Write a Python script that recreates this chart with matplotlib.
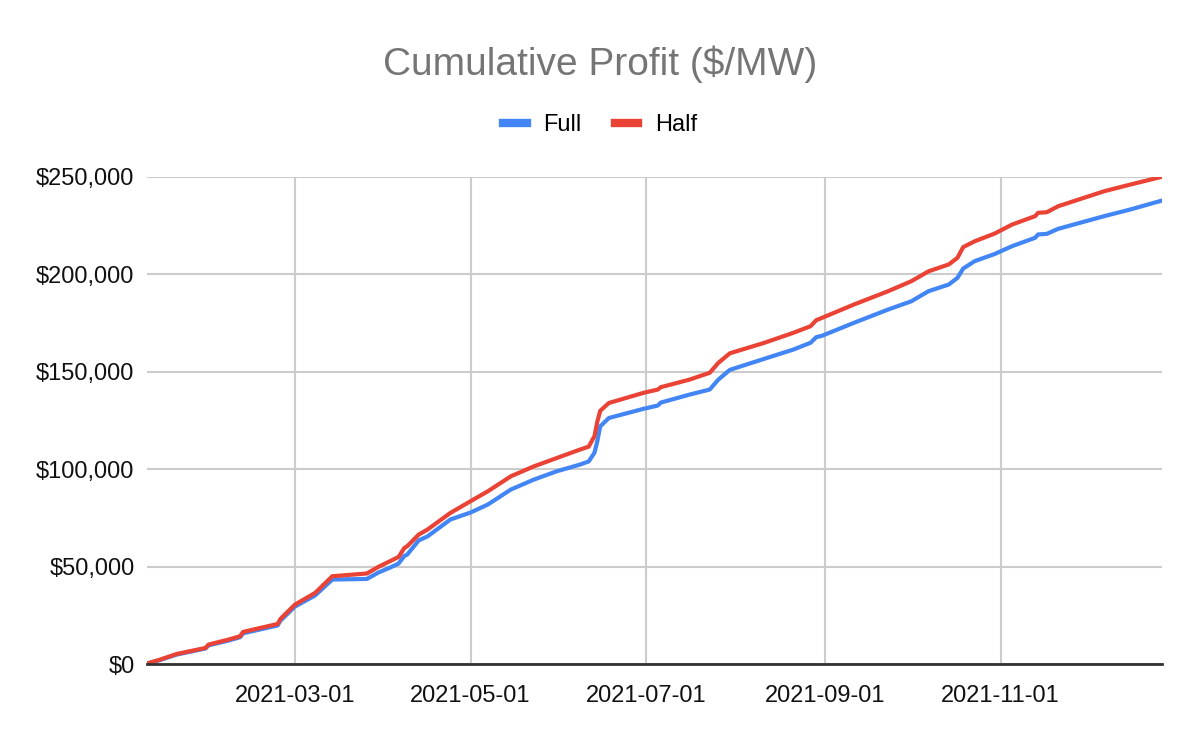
import matplotlib
matplotlib.use("Agg")
import matplotlib.pyplot as plt
import matplotlib.dates as mdates
from matplotlib.ticker import FuncFormatter
from matplotlib.lines import Line2D
import pandas as pd

plt.rcParams['font.family'] = ['Liberation Sans', 'DejaVu Sans']

dates = ["2021-01-08", "2021-01-13", "2021-01-19", "2021-01-29", "2021-01-30",
         "2021-02-06", "2021-02-10", "2021-02-11", "2021-02-23", "2021-02-24",
         "2021-03-01", "2021-03-08", "2021-03-14", "2021-03-26", "2021-03-30",
         "2021-04-03", "2021-04-06", "2021-04-08", "2021-04-09", "2021-04-13",
         "2021-04-16", "2021-04-24", "2021-05-01", "2021-05-07", "2021-05-15",
         "2021-05-23", "2021-05-31", "2021-06-08", "2021-06-11", "2021-06-13",
         "2021-06-14", "2021-06-15", "2021-06-18", "2021-06-30", "2021-07-05",
         "2021-07-06", "2021-07-16", "2021-07-23", "2021-07-26", "2021-07-30",
         "2021-08-11", "2021-08-21", "2021-08-27", "2021-08-29", "2021-08-31",
         "2021-09-11", "2021-09-23", "2021-10-01", "2021-10-07", "2021-10-14",
         "2021-10-17", "2021-10-19", "2021-10-23", "2021-10-30", "2021-11-05",
         "2021-11-13", "2021-11-14", "2021-11-17", "2021-11-21", "2021-12-07",
         "2021-12-16", "2021-12-27"]

full = [0, 2000, 4900, 8000, 9600,
        12100, 13800, 15800, 19800, 22300,
        29500, 35200, 43400, 43700, 47000,
        49500, 51600, 55500, 56200, 63500,
        65500, 74200, 77800, 81900, 89600,
        94700, 99000, 102400, 104000, 108500,
        114500, 122000, 126300, 131000, 132700,
        134200, 138300, 140900, 146000, 151000,
        156700, 161400, 164900, 167800, 168500,
        175100, 182000, 186200, 191400, 194800,
        198200, 203000, 206800, 210500, 214500,
        218800, 220500, 220800, 223400, 229900,
        233300, 237900]

half = [0, 2200, 5200, 8300, 10000,
        12600, 14300, 16500, 20600, 23200,
        30500, 36500, 45100, 46500, 49900,
        52800, 55000, 59600, 60500, 66500,
        69000, 77600, 83600, 88700, 96400,
        101500, 105800, 110100, 111600, 117000,
        124500, 130000, 134000, 139200, 140900,
        142100, 146000, 149500, 154600, 159500,
        164900, 170000, 173400, 176500, 177700,
        184500, 191400, 196500, 201600, 205100,
        208500, 214000, 217000, 221000, 225600,
        229900, 231600, 231900, 235000, 242700,
        246100, 250100]

series_names = ["Full", "Half"]
series_colors = ["#4285F4", "#EA4335"]
x_ticks = ["2021-03-01", "2021-05-01", "2021-07-01", "2021-09-01", "2021-11-01"]
y_ticks = [0, 50000, 100000, 150000, 200000, 250000]

x = pd.to_datetime(dates)

fig = plt.figure(figsize=(12, 7.42), dpi=100)
ax = fig.add_axes([0.1225, 0.105, 0.8458, 0.6565])

for vals, name, col in zip([full, half], series_names, series_colors):
    ax.plot(x, vals, color=col, lw=3.0, solid_joinstyle='round', solid_capstyle='round', label=name)

ax.set_xlim(pd.Timestamp("2021-01-08 16:00"), pd.Timestamp("2021-12-27"))
ax.set_ylim(0, 250000)
ax.set_yticks(y_ticks)
ax.yaxis.set_major_formatter(FuncFormatter(lambda v, p: "${:,.0f}".format(v)))
ax.set_xticks(pd.to_datetime(x_ticks))
ax.set_xticklabels(x_ticks)

ax.grid(True, color="#cccccc", lw=1.5)
ax.set_axisbelow(True)
for s in ["left", "right", "top"]:
    ax.spines[s].set_visible(False)
ax.spines["bottom"].set_color("#333333")
ax.spines["bottom"].set_linewidth(2)
ax.spines["bottom"].set_zorder(5)
ax.tick_params(axis="both", length=0, labelsize=17, colors="#111111")
ax.tick_params(axis="x", pad=15)
ax.tick_params(axis="y", pad=9)

fig.text(0.5, 0.914, "Cumulative Profit ($/MW)", ha="center", va="center",
         fontsize=28, color="#757575")

handles = [Line2D([0], [0], color=c, lw=6) for c in series_colors]
fig.legend(handles, series_names, loc="center", bbox_to_anchor=(0.5, 0.831),
           ncol=2, frameon=False, fontsize=17, handlelength=1.0,
           handletextpad=0.7, columnspacing=1.4)

fig.savefig("out.png", dpi=100)
